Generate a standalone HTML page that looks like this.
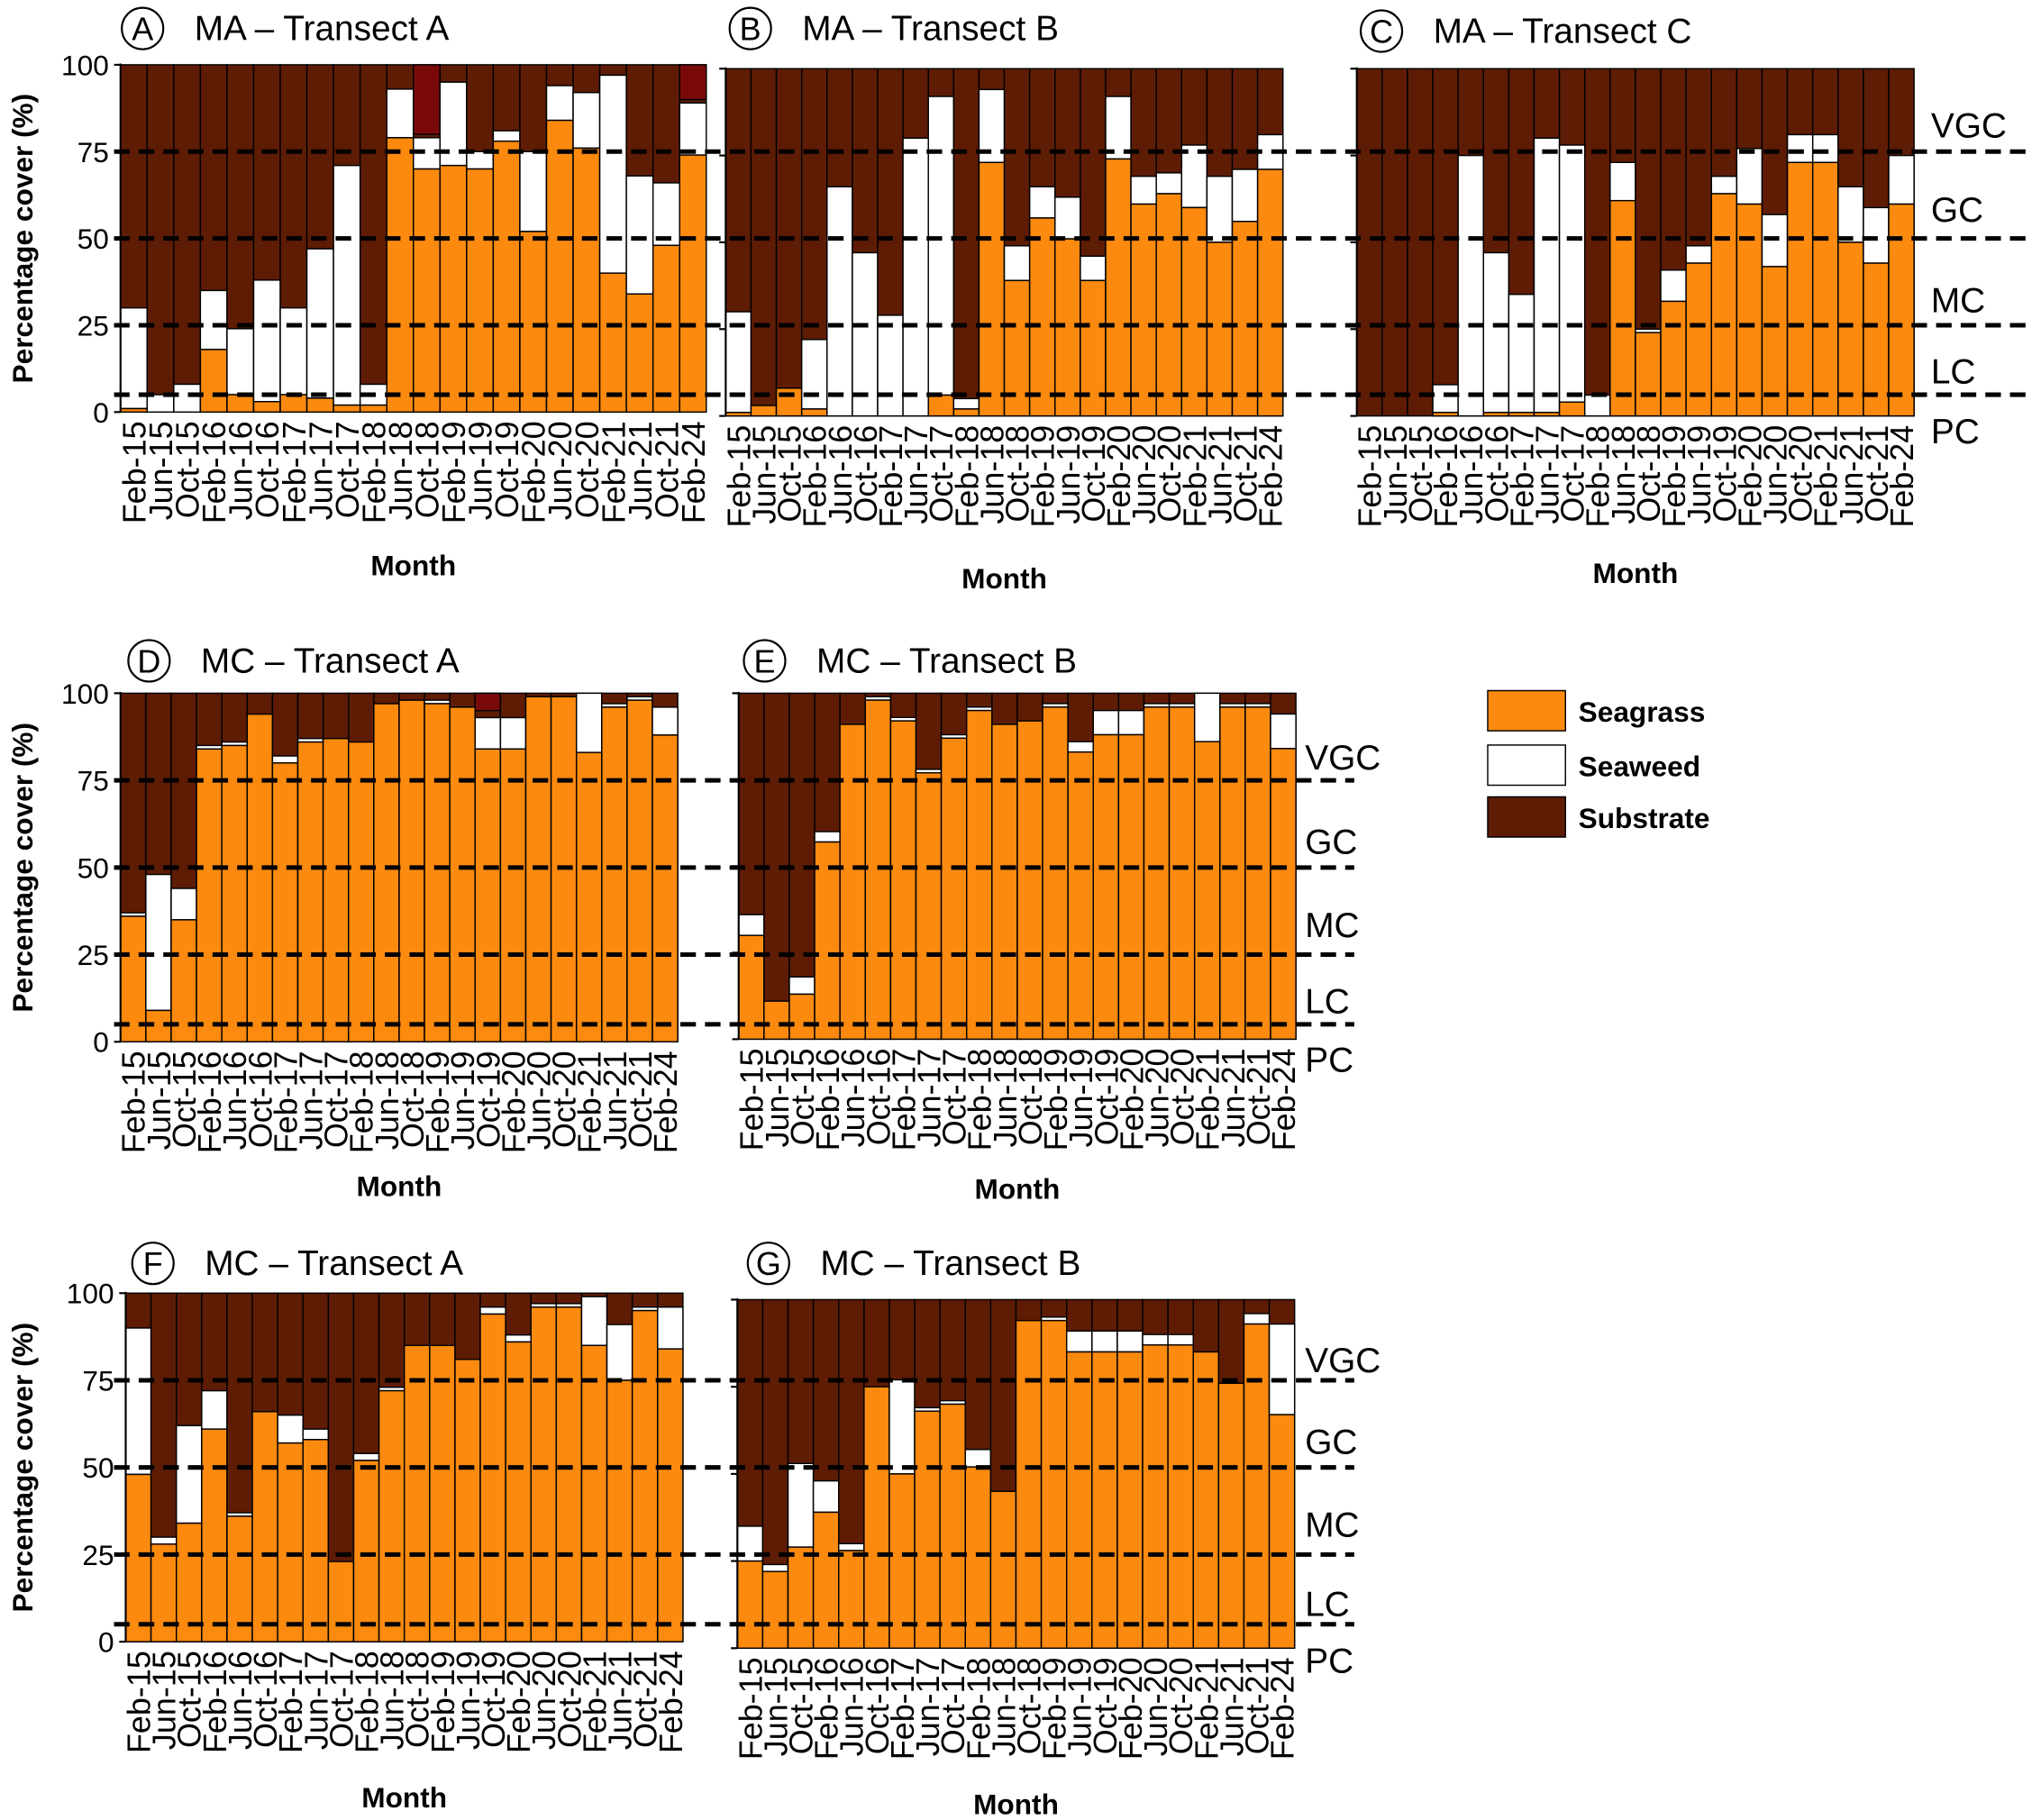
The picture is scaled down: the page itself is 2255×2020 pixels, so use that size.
<!DOCTYPE html>
<html><head><meta charset="utf-8">
<style>html,body{margin:0;padding:0;background:#fff}svg{display:block}</style>
</head><body>
<svg id="s" xmlns="http://www.w3.org/2000/svg" width="2255" height="2020" viewBox="0 0 1568 1404.6" font-family="Liberation Sans, Arial, sans-serif"></svg>
<script>
const S=document.getElementById('s');let h='';
const months=["Feb-15","Jun-15","Oct-15","Feb-16","Jun-16","Oct-16","Feb-17","Jun-17","Oct-17","Feb-18","Jun-18","Oct-18","Feb-19","Jun-19","Oct-19","Feb-20","Jun-20","Oct-20","Feb-21","Jun-21","Oct-21","Feb-24"];
const SG='#fb8a0e',SUB='#5e1c05',DR='#7a0a0a';
function panel(p){
 const {x0,x1,y0,y100,letter,title,tx,ty,data,mY,dark}=p;
 const k=(y0-y100)/100, w=(x1-x0)/22;
 h+=`<circle cx="${tx}" cy="${ty}" r="16" fill="#fff" stroke="#000" stroke-width="1.5"/><text x="${tx}" y="${ty+9}" font-size="25" text-anchor="middle">${letter}</text>`;
 h+=`<text x="${tx+40}" y="${ty+9}" font-size="27">${title}</text>`;
 data.forEach((d,i)=>{
  const bx=x0+i*w;const sg=d[0],sw=d[1];
  const Y=v=>y0-v*k;
  h+=`<rect x="${bx}" y="${y100}" width="${w}" height="${y0-y100}" fill="${SUB}" stroke="#000" stroke-width="1"/>`;
  if(dark&&dark[i]!=null) h+=`<rect x="${bx}" y="${y100}" width="${w}" height="${(100-dark[i])*k}" fill="${DR}" stroke="#000" stroke-width="1"/>`;
  if(sw>sg) h+=`<rect x="${bx}" y="${Y(sw)}" width="${w}" height="${(sw-sg)*k}" fill="#fff" stroke="#000" stroke-width="1"/>`;
  if(sg>0) h+=`<rect x="${bx}" y="${Y(sg)}" width="${w}" height="${sg*k}" fill="${SG}" stroke="#000" stroke-width="1"/>`;
  h+=`<text transform="translate(${bx+w/2+9},${y0+7}) rotate(-90)" font-size="25" text-anchor="end">${months[i]}</text>`;
 });
 h+=`<line x1="${x0}" y1="${y100-1}" x2="${x0}" y2="${y0}" stroke="#000" stroke-width="1.5"/>`;
 [0,25,50,75,100].forEach(v=>{const y=y0-v*k;h+=`<line x1="${x0-5}" y1="${y}" x2="${x0}" y2="${y}" stroke="#000" stroke-width="1.5"/>`;
  if(p.yl) h+=`<text x="${x0-9}" y="${y+8}" font-size="22" text-anchor="end">${v}</text>`;});
 if(p.yl) h+=`<text transform="translate(25,${(y0+y100)/2}) rotate(-90)" font-size="22" font-weight="bold" text-anchor="middle">Percentage cover (%)</text>`;
 h+=`<text x="${(x0+x1)/2}" y="${mY}" font-size="22" font-weight="bold" text-anchor="middle">Month</text>`;
}
function dashes(y0,y100,xe){const k=(y0-y100)/100;[75,50,25,5].forEach(v=>{const y=y0-v*k;h+=`<line x1="88" y1="${y}" x2="${xe}" y2="${y}" stroke="#000" stroke-width="3.5" stroke-dasharray="12,7"/>`;});}
function lbls(x,arr){const n=["VGC","GC","MC","LC","PC"];arr.forEach((y,i)=>h+=`<text x="${x}" y="${y+9}" font-size="27">${n[i]}</text>`);}
const A=[[1,30],[0,5],[0,8],[18,35],[5,24],[3,38],[5,30],[4,47],[2,71],[2,8],[79,93],[70,79],[71,95],[70,75],[78,81],[52,75],[84,94],[76,92],[40,97],[34,68],[48,66],[74,89]];
const B=[[1,30],[3,3],[8,8],[2,22],[0,66],[0,47],[0,29],[0,80],[6,92],[2,5],[73,94],[39,49],[57,66],[51,63],[39,46],[74,92],[61,69],[64,70],[60,78],[50,69],[56,71],[71,81]];
const C=[[0,0],[0,0],[0,0],[1,9],[0,75],[1,47],[1,35],[1,80],[4,78],[0,6],[62,73],[24,25],[33,42],[44,49],[64,69],[61,77],[43,58],[73,81],[73,81],[50,66],[44,60],[61,75]];
const D=[[36,37],[9,48],[35,44],[84,85],[85,86],[94,94],[80,82],[86,87],[87,87],[86,86],[97,97],[98,98],[97,98],[96,96],[84,93],[84,93],[99,99],[99,99],[83,100],[96,97],[98,99],[88,96]];
const E=[[30,36],[11,11],[13,18],[57,60],[91,91],[98,99],[92,93],[77,78],[87,88],[95,96],[91,91],[92,92],[96,97],[83,86],[88,95],[88,95],[96,97],[96,97],[86,100],[96,97],[96,97],[84,94]];
const F=[[48,90],[28,30],[34,62],[61,72],[36,37],[66,66],[57,65],[58,61],[23,23],[52,54],[72,73],[85,85],[85,85],[81,81],[94,96],[86,88],[96,97],[96,97],[85,99],[75,91],[95,96],[84,96]];
const G=[[25,35],[22,24],[29,53],[39,48],[28,30],[75,75],[50,77],[68,69],[70,71],[52,57],[45,45],[94,94],[94,95],[85,91],[85,91],[85,91],[87,90],[87,90],[85,85],[76,76],[93,96],[67,93]];
const dA=[];dA[11]=80;dA[21]=90;const dD=[];dD[14]=95;
panel({x0:93,x1:545,y0:318,y100:50,letter:"A",title:"MA – Transect A",tx:110,ty:22,data:A,mY:444,yl:1,dark:dA});
panel({x0:560,x1:990,y0:321,y100:53,letter:"B",title:"MA – Transect B",tx:579,ty:22,data:B,mY:454});
panel({x0:1047,x1:1477,y0:321,y100:53,letter:"C",title:"MA – Transect C",tx:1066,ty:24,data:C,mY:450});
dashes(318,50,1565);lbls(1490,[97,162,232,287,333]);
panel({x0:93,x1:523,y0:804,y100:535,letter:"D",title:"MC – Transect A",tx:115,ty:510,data:D,mY:923,yl:1,dark:dD});
panel({x0:570,x1:1000,y0:802,y100:535,letter:"E",title:"MC – Transect B",tx:590,ty:510,data:E,mY:925});
dashes(804,535,1045);lbls(1007,[585,650,714,773,818]);
panel({x0:97,x1:527,y0:1267,y100:998,letter:"F",title:"MC – Transect A",tx:118,ty:975,data:F,mY:1395,yl:1});
panel({x0:569,x1:999,y0:1272,y100:1003,letter:"G",title:"MC – Transect B",tx:593,ty:975,data:G,mY:1400});
dashes(1267,998,1045);lbls(1007,[1050,1113,1177,1238,1282]);
[["Seagrass",SG,533],["Seaweed","#fff",575],["Substrate",SUB,615]].forEach(l=>{h+=`<rect x="1148" y="${l[2]}" width="60" height="31" fill="${l[1]}" stroke="#000" stroke-width="1"/><text x="1218" y="${l[2]+24}" font-size="22" font-weight="bold">${l[0]}</text>`;});
S.innerHTML=h;
</script>
</body></html>
